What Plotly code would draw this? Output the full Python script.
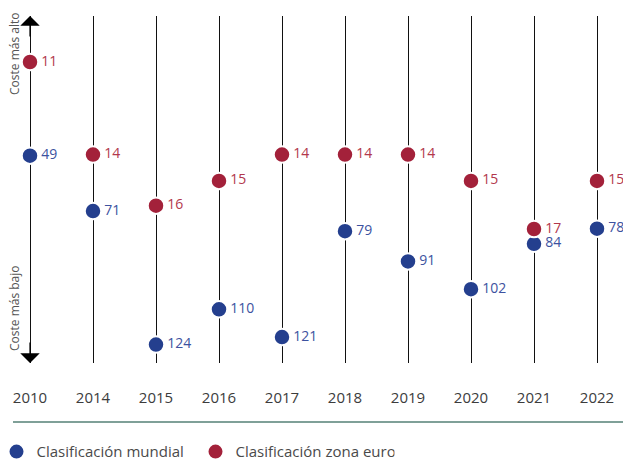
import plotly.graph_objects as go

years = ["2010", "2014", "2015", "2016", "2017", "2018", "2019", "2020", "2021", "2022"]
world_rank = [49, 71, 124, 110, 121, 79, 91, 102, 84, 78]
euro_rank = [11, 14, 16, 15, 14, 14, 14, 15, 17, 15]
series_names = ["Clasificación mundial", "Clasificación zona euro"]
axis_top_label = "Coste más alto"
axis_bottom_label = "Coste más bajo"

BLUE = "#243f8e"
RED = "#a3213a"
BLUE_TXT = "#3d52a0"
RED_TXT = "#b2384c"

xs = list(range(len(years)))

fig = go.Figure()
fig.add_trace(go.Scatter(
    x=xs, y=world_rank, name=series_names[0], mode="markers+text",
    text=[str(v) for v in world_rank], textposition="middle right",
    textfont=dict(family="Open Sans", size=14, color=BLUE_TXT),
    marker=dict(size=16.5, color=BLUE, line=dict(color="white", width=2)),
    yaxis="y", cliponaxis=False, hoverinfo="skip",
))
fig.add_trace(go.Scatter(
    x=xs, y=euro_rank, name=series_names[1], mode="markers+text",
    text=[str(v) for v in euro_rank], textposition="middle right",
    textfont=dict(family="Open Sans", size=14, color=RED_TXT),
    marker=dict(size=16.5, color=RED, line=dict(color="white", width=2)),
    yaxis="y2", cliponaxis=False, hoverinfo="skip",
))

W, H = 623, 461
fig.update_layout(
    width=W, height=H,
    margin=dict(l=0, r=0, t=16, b=98, autoexpand=False),
    paper_bgcolor="white", plot_bgcolor="white",
    font=dict(family="Open Sans", color="#444444"),
    showlegend=True,
    legend=dict(
        orientation="h", x=-3.5 / W, xanchor="left", y=-0.256, yanchor="middle",
        font=dict(size=15, color="#4a4a4a"),
        entrywidth=154, entrywidthmode="pixels",
        itemsizing="trace", bgcolor="rgba(0,0,0,0)",
    ),
    xaxis=dict(
        range=[-30 / 63, (W - 30) / 63],
        tickmode="array", tickvals=xs, ticktext=years,
        showgrid=True, gridcolor="#111111", gridwidth=1,
        zeroline=False, showline=False,
        ticks="outside", ticklen=21, tickcolor="rgba(0,0,0,0)",
        tickfont=dict(size=15, color="#3c3c3c"),
        fixedrange=True, automargin=False,
    ),
    yaxis=dict(
        range=[131.3, -6.42], visible=False, showgrid=False, zeroline=False,
        fixedrange=True,
    ),
    yaxis2=dict(
        type="log", range=[1.38216, 0.98931], overlaying="y", visible=False,
        showgrid=False, zeroline=False, fixedrange=True,
    ),
    shapes=[
        dict(type="line", xref="paper", yref="paper",
             x0=13 / W, x1=1, y0=(363 - 422) / 347, y1=(363 - 422) / 347,
             line=dict(color="#7fa098", width=2)),
    ],
    annotations=[
        dict(x=0, y=1, xref="x", yref="paper", ax=0, ay=22, axref="pixel", ayref="pixel",
             text="", showarrow=True, arrowhead=1, arrowsize=2.7, arrowwidth=1.2,
             arrowcolor="#000000", standoff=0),
        dict(x=0, y=0, xref="x", yref="paper", ax=0, ay=-22, axref="pixel", ayref="pixel",
             text="", showarrow=True, arrowhead=1, arrowsize=2.7, arrowwidth=1.2,
             arrowcolor="#000000", standoff=0),
        dict(x=14 / W, y=(363 - 54) / 347, xref="paper", yref="paper",
             text=axis_top_label, textangle=-90, showarrow=False,
             font=dict(size=12, color="#555555"), xanchor="center", yanchor="middle"),
        dict(x=14 / W, y=(363 - 308) / 347, xref="paper", yref="paper",
             text=axis_bottom_label, textangle=-90, showarrow=False,
             font=dict(size=12, color="#555555"), xanchor="center", yanchor="middle"),
    ],
)

fig.write_html("out.html", config={"displayModeBar": False},
               post_script="document.body.style.margin='0px';")
